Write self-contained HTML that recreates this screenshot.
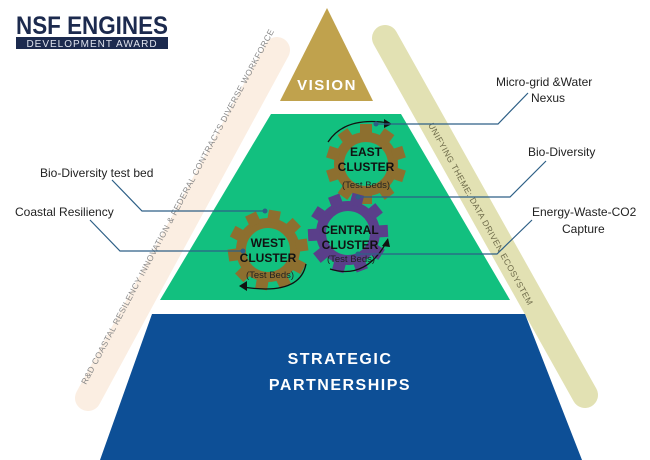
<!DOCTYPE html>
<html><head><meta charset="utf-8"><style>
body{margin:0;background:#fff;}
svg{display:block;font-family:"Liberation Sans",sans-serif;}
</style></head><body>
<svg width="650" height="460" viewBox="0 0 650 460" xmlns="http://www.w3.org/2000/svg">
<defs>
<g id="gear">
 <circle r="32" fill="currentColor"/>
 <g fill="currentColor">
  <rect x="-6" y="-40" width="12" height="12" transform="rotate(0)"/>
  <rect x="-6" y="-40" width="12" height="12" transform="rotate(36)"/>
  <rect x="-6" y="-40" width="12" height="12" transform="rotate(72)"/>
  <rect x="-6" y="-40" width="12" height="12" transform="rotate(108)"/>
  <rect x="-6" y="-40" width="12" height="12" transform="rotate(144)"/>
  <rect x="-6" y="-40" width="12" height="12" transform="rotate(180)"/>
  <rect x="-6" y="-40" width="12" height="12" transform="rotate(216)"/>
  <rect x="-6" y="-40" width="12" height="12" transform="rotate(252)"/>
  <rect x="-6" y="-40" width="12" height="12" transform="rotate(288)"/>
  <rect x="-6" y="-40" width="12" height="12" transform="rotate(324)"/>
 </g>
 <circle r="22" fill="#12c07f"/>
</g>
</defs>
<!-- bands -->
<line x1="88" y1="398" x2="277" y2="50" stroke="#fbeee2" stroke-width="26" stroke-linecap="round"/>
<line x1="385" y1="38" x2="585" y2="395" stroke="#e2e1b3" stroke-width="26" stroke-linecap="round"/>
<text transform="translate(86,385) rotate(-62)" font-size="8.5" fill="#8a8a8a" letter-spacing="0.5">R&amp;D COASTAL RESILENCY INNOVATION &amp; FEDERAL CONTRACTS DIVERSE WORKFORCE</text>
<text transform="translate(428,125) rotate(61)" font-size="8.5" fill="#6e6b4a" letter-spacing="0.5">UNIFYING THEME: DATA DRIVEN ECOSYSTEM</text>
<!-- pyramid -->
<polygon points="327,8 373,101 280,101" fill="#c0a24d"/>
<text x="327" y="90" font-size="15" font-weight="bold" fill="#fff" text-anchor="middle" letter-spacing="1.5">VISION</text>
<polygon points="271,114 401,114 510,300 160,300" fill="#12c07f"/>
<polygon points="152,314 525,314 582,460 100,460" fill="#0d4f96"/>
<text x="340" y="364" font-size="16" font-weight="bold" fill="#fff" text-anchor="middle" letter-spacing="1.5">STRATEGIC</text>
<text x="340" y="390" font-size="16" font-weight="bold" fill="#fff" text-anchor="middle" letter-spacing="1.5">PARTNERSHIPS</text>
<!-- logo -->
<text x="16" y="34" font-size="25" font-weight="bold" fill="#1c2a4e" textLength="152" lengthAdjust="spacingAndGlyphs">NSF ENGINES</text>
<rect x="16" y="37" width="152" height="12" fill="#1c2a4e"/>
<text x="92" y="47" font-size="10" fill="#dfe3ee" text-anchor="middle" letter-spacing="1">DEVELOPMENT AWARD</text>
<!-- gears -->
<g color="#8d6f2f"><use href="#gear" transform="translate(366,164)"/></g>
<g color="#8d6f2f"><use href="#gear" transform="translate(268,250) rotate(10)"/></g>
<g color="#5a3f8a"><use href="#gear" transform="translate(348,233) rotate(15)"/></g>
<g font-size="12" font-weight="bold" fill="#111" text-anchor="middle">
<text x="366" y="156">EAST</text><text x="366" y="171">CLUSTER</text>
<text x="268" y="247">WEST</text><text x="268" y="262">CLUSTER</text>
<text x="350" y="234">CENTRAL</text><text x="350" y="249">CLUSTER</text>
</g>
<g font-size="9.5" fill="#222" text-anchor="middle">
<text x="366" y="188">(Test Beds)</text>
<text x="270" y="278">(Test Beds)</text>
<text x="351" y="262">(Test Beds)</text>
</g>
<!-- arrows -->
<g fill="none" stroke="#111" stroke-width="1.3">
<path d="M328,142 Q345,116 389,123"/>
<path d="M306,264 Q300,296 243,287"/>
<path d="M330,269 Q365,280 386,243"/>
</g>
<g fill="#111">
<polygon points="392,124 384,119 384,128"/>
<polygon points="239,286 247,281 247,291"/>
<polygon points="388,238 382,246 390,247"/>
</g>
<!-- connectors -->
<g fill="none" stroke="#2d5f86" stroke-width="1.2">
<polyline points="376,124 498,124 528,93"/>
<polyline points="358,197 510,197 546,161"/>
<polyline points="358,254 497,254 532,220"/>
<polyline points="112,180 142,211 265,211"/>
<polyline points="90,220 120,251 243,251"/>
</g>
<g fill="#2d5f86"><circle cx="376" cy="124" r="2.5"/><circle cx="358" cy="197" r="2.5"/><circle cx="358" cy="254" r="2.5"/><circle cx="265" cy="211" r="2.5"/><circle cx="243" cy="251" r="2.5"/></g>
<g font-size="12" fill="#222">
<text x="496" y="86">Micro-grid &amp;Water</text>
<text x="531" y="102">Nexus</text>
<text x="528" y="156">Bio-Diversity</text>
<text x="532" y="216">Energy-Waste-CO2</text>
<text x="562" y="233">Capture</text>
<text x="40" y="177">Bio-Diversity test bed</text>
<text x="15" y="216">Coastal Resiliency</text>
</g>
</svg>
</body></html>
